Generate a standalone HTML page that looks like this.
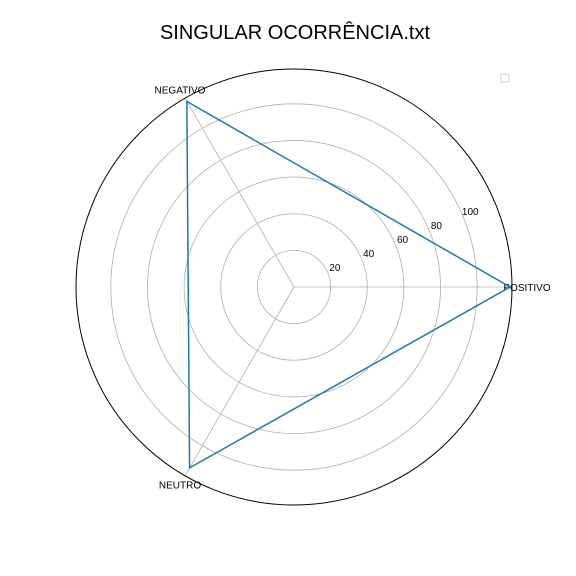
<!DOCTYPE html>
<html><head><meta charset="utf-8"><style>
body{margin:0;background:#fff}
svg{display:block;font-family:"Liberation Sans","DejaVu Sans",sans-serif}
</style></head><body>
<svg id="chart" width="576" height="576">
<rect width="576" height="576" fill="#fff"/>
<text x="295" y="39" font-size="20" text-anchor="middle">SINGULAR OCORRÊNCIA.txt</text>
<g id="grid"></g>
<g id="series"></g>
<rect x="501" y="74" width="8" height="8" fill="#fff" stroke="#ccc" rx="1"/>
</svg>
<script>
const categories=["POSITIVO","NEGATIVO","NEUTRO"];
const values=[118,117,114];
const rTicks=[20,40,60,80,100];
const rMax=119;
const cx=294,cy=287,R=218;
const NS="http://www.w3.org/2000/svg";
function rs(v){return v/rMax*R;}
function ang(i){return i*2*Math.PI/categories.length;}
function pt(i,v){const a=ang(i);return [cx+rs(v)*Math.cos(a),cy-rs(v)*Math.sin(a)];}
const grid=document.getElementById('grid'),series=document.getElementById('series');
function mk(tag,attrs,parent){const e=document.createElementNS(NS,tag);for(const k in attrs)e.setAttribute(k,attrs[k]);parent.appendChild(e);return e;}
rTicks.forEach(t=>{
 const c=mk('circle',{cx:cx,cy:cy,r:rs(t),fill:'none',stroke:'#b0b0b0','stroke-width':0.8},grid);
 
 
 const a=22.5*Math.PI/180;
 const tx=mk('text',{x:cx+rs(t)*Math.cos(a)+7,y:cy-rs(t)*Math.sin(a)-2,'font-size':10,'text-anchor':'middle'},grid);
 tx.textContent=t;
 
 
});
categories.forEach((c,i)=>{
 const [x,y]=pt(i,rMax);
 const l=mk('line',{x1:cx,y1:cy,x2:x,y2:y,stroke:'#b0b0b0','stroke-width':0.8},grid);
 
 
 const a=ang(i);
 const lx=cx+(R+10)*Math.cos(a),ly=cy-(R+10)*Math.sin(a);
 const t=mk('text',{x:i==0?lx+5:lx,y:ly+4,'font-size':10,'text-anchor':'middle'},grid);
 t.textContent=c;
 
 
});
const oc=mk('circle',{cx:cx,cy:cy,r:R,fill:'none',stroke:'#000','stroke-width':1},grid);


const pts=values.map((v,i)=>pt(i,v).join(',')).join(' ');
const poly=mk('polygon',{points:pts,fill:'none',stroke:'#1f77b4','stroke-width':1.5},series);


</script>
</body></html>
